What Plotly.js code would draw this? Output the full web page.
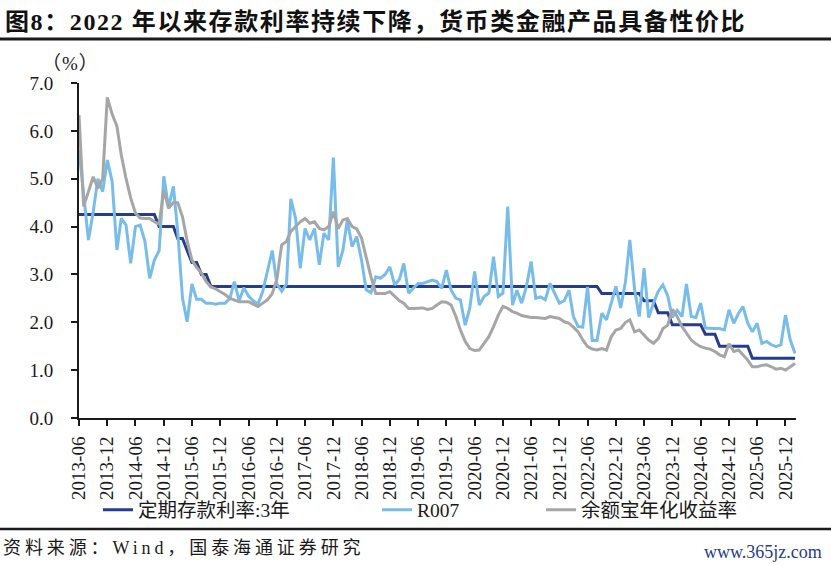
<!DOCTYPE html>
<html>
<head>
<meta charset="utf-8">
<script src="https://cdn.plot.ly/plotly-3.0.1.min.js"></script>
<style>
html,body{margin:0;padding:0;background:#fff;}
#chart{width:831px;height:566px;}
g.annotation[data-index="0"] text{letter-spacing:1.6px;}
g.annotation[data-index="1"] text{letter-spacing:1px;}
g.annotation[data-index="2"] text{letter-spacing:3.9px;}
</style>
</head>
<body>
<div id="chart"></div>
<script>
// Monthly data, 2013-06 .. 2026-02
const startYear = 2013, startMonth = 6;

const deposit3y = [
  4.25, 4.25, 4.25, 4.25, 4.25, 4.25, 4.25,
  4.25, 4.25, 4.25, 4.25, 4.25, 4.25, 4.25, 4.25, 4.25, 4.25, 4.0, 4.0,
  4.0, 4.0, 3.75, 3.75, 3.5, 3.25, 3.25, 3.0, 3.0, 2.75, 2.75, 2.75,
  2.75, 2.75, 2.75, 2.75, 2.75, 2.75, 2.75, 2.75, 2.75, 2.75, 2.75, 2.75,
  2.75, 2.75, 2.75, 2.75, 2.75, 2.75, 2.75, 2.75, 2.75, 2.75, 2.75, 2.75,
  2.75, 2.75, 2.75, 2.75, 2.75, 2.75, 2.75, 2.75, 2.75, 2.75, 2.75, 2.75,
  2.75, 2.75, 2.75, 2.75, 2.75, 2.75, 2.75, 2.75, 2.75, 2.75, 2.75, 2.75,
  2.75, 2.75, 2.75, 2.75, 2.75, 2.75, 2.75, 2.75, 2.75, 2.75, 2.75, 2.75,
  2.75, 2.75, 2.75, 2.75, 2.75, 2.75, 2.75, 2.75, 2.75, 2.75, 2.75, 2.75,
  2.75, 2.75, 2.75, 2.75, 2.75, 2.75, 2.75, 2.75, 2.6, 2.6, 2.6, 2.6,
  2.6, 2.6, 2.6, 2.6, 2.6, 2.45, 2.45, 2.45, 2.2, 2.2, 2.2, 1.95,
  1.95, 1.95, 1.95, 1.95, 1.95, 1.95, 1.75, 1.75, 1.75, 1.5, 1.5, 1.5,
  1.5, 1.5, 1.5, 1.5, 1.25, 1.25, 1.25, 1.25, 1.25, 1.25, 1.25, 1.25,
  1.25, 1.25
];

const r007 = [
  5.6, 4.6, 3.72, 4.31, 5.0, 4.73, 5.39,
  4.95, 3.51, 4.17, 4.03, 3.23, 4.0, 4.03, 3.69, 2.92, 3.3, 3.5, 5.05,
  4.4, 4.84, 3.9, 2.5, 2.01, 2.8, 2.48, 2.48, 2.4, 2.4, 2.38, 2.4,
  2.4, 2.5, 2.85, 2.45, 2.72, 2.55, 2.45, 2.38, 2.65, 3.1, 3.5, 2.8,
  2.65, 2.8, 4.58, 4.17, 3.13, 3.96, 3.72, 3.96, 3.2, 3.86, 3.72, 5.44,
  3.16, 3.51, 4.14, 3.58, 3.79, 3.3, 2.68, 2.62, 2.95, 2.92, 3.0, 3.16,
  2.78, 2.9, 3.23, 2.61, 2.71, 2.81, 2.81, 2.85, 2.88, 2.85, 2.71, 3.09,
  2.67, 2.5, 2.47, 1.94, 2.3, 3.06, 2.36, 2.54, 2.61, 3.37, 2.54, 2.61,
  4.42, 2.36, 2.67, 2.4, 2.74, 3.27, 2.5, 2.53, 2.47, 2.81, 2.61, 2.4,
  2.45, 2.67, 2.12, 1.91, 1.9, 2.74, 1.62, 1.62, 2.19, 2.05, 2.4, 2.75,
  2.3, 2.85, 3.72, 2.68, 2.12, 3.13, 2.1, 2.4, 2.65, 2.78, 2.55, 2.1,
  2.25, 2.12, 2.8, 2.12, 2.1, 2.4, 1.88, 1.87, 1.87, 1.87, 1.84, 2.26,
  1.98, 2.19, 2.33, 1.98, 1.8, 1.98, 1.56, 1.6, 1.53, 1.49, 1.53, 2.15,
  1.63, 1.35
];

const yuebao = [
  6.33, 4.42, 4.73, 5.04, 4.8, 5.0, 6.7,
  6.35, 6.1, 5.5, 5.0, 4.6, 4.28, 4.18, 4.17, 4.17, 4.1, 4.05, 4.76,
  4.38, 4.5, 4.5, 4.2, 3.7, 3.3, 3.15, 3.03, 2.85, 2.74, 2.7, 2.64,
  2.58, 2.5, 2.47, 2.43, 2.43, 2.43, 2.38, 2.33, 2.4, 2.47, 2.6, 2.9,
  3.62, 3.69, 3.9, 4.0, 4.1, 4.17, 4.07, 4.1, 3.96, 3.93, 4.0, 4.31,
  3.96, 4.14, 4.17, 4.0, 3.95, 3.76, 3.34, 2.95, 2.6, 2.6, 2.6, 2.64,
  2.54, 2.45, 2.4, 2.29, 2.29, 2.29, 2.3, 2.27, 2.29, 2.36, 2.43, 2.42,
  2.36, 2.12, 1.84, 1.6, 1.45, 1.41, 1.42, 1.56, 1.7, 1.91, 2.15, 2.33,
  2.29, 2.22, 2.19, 2.14, 2.12, 2.1, 2.1, 2.09, 2.08, 2.12, 2.1, 2.08,
  2.01, 1.98, 1.9, 1.8, 1.63, 1.49, 1.44, 1.42, 1.45, 1.42, 1.7, 1.84,
  1.87, 2.0, 2.05, 1.8, 1.84, 1.73, 1.63, 1.56, 1.66, 1.87, 1.94, 2.27,
  2.12, 1.91, 1.77, 1.63, 1.55, 1.49, 1.46, 1.44, 1.39, 1.32, 1.28, 1.55,
  1.39, 1.42, 1.32, 1.21, 1.07, 1.07, 1.1, 1.11, 1.07, 1.02, 1.04, 1.0,
  1.07, 1.14
];

const tickLabels = [
  "2013-06","2013-12","2014-06","2014-12","2015-06","2015-12","2016-06","2016-12",
  "2017-06","2017-12","2018-06","2018-12","2019-06","2019-12","2020-06","2020-12",
  "2021-06","2021-12","2022-06","2022-12","2023-06","2023-12","2024-06","2024-12",
  "2025-06","2025-12"
];

const seriesNames = ["定期存款利率:3年", "R007", "余额宝年化收益率"];
const seriesColors = ["#263d8f", "#78bde9", "#a6a6a6"];

// month category dates
const months = [];
for (let k = 0; k < r007.length; k++) {
  const t = startMonth - 1 + k;
  const y = startYear + Math.floor(t / 12);
  const m = (t % 12) + 1;
  months.push(y + "-" + (m < 10 ? "0" + m : m) + "-01");
}
const tickVals = tickLabels.map(s => s + "-01");

const serif = 'Liberation Serif, "Noto Sans CJK SC", serif';
const txt = "#1a1a1a";

const traces = [deposit3y, r007, yuebao].map((vals, j) => ({
  type: "scatter", mode: "lines",
  x: months, y: vals, name: seriesNames[j],
  line: {color: seriesColors[j], width: 3},
  legend: j === 0 ? "legend" : ("legend" + (j + 1)),
  hoverinfo: "skip"
}));

function px2x(p){ return (p - 79) / 717; }
function py2y(p){ return (418 - p) / 335; }

const legendBase = {
  orientation: "h", yanchor: "middle", xanchor: "left",
  y: py2y(510), bgcolor: "rgba(0,0,0,0)", borderwidth: 0,
  font: {family: serif, size: 19.5, color: txt}, itemwidth: 30
};

const layout = {
  width: 831, height: 566,
  margin: {l: 79, r: 35, t: 83, b: 148},
  paper_bgcolor: "#fff", plot_bgcolor: "#fff",
  showlegend: true,
  legend: Object.assign({}, legendBase, {x: px2x(98)}),
  legend2: Object.assign({}, legendBase, {x: px2x(377)}),
  legend3: Object.assign({}, legendBase, {x: px2x(541)}),
  xaxis: {
    type: "date", range: ["2013-06-01", "2026-02-07"],
    tickmode: "array", tickvals: tickVals, ticktext: tickLabels,
    tickangle: -90, ticks: "outside", ticklen: 6, tickwidth: 2, tickcolor: "#1a1a1a",
    showline: true, linecolor: "#1a1a1a", linewidth: 2,
    showgrid: false, zeroline: false, ticklabelstandoff: 3,
    tickfont: {family: serif, size: 19, color: txt}
  },
  yaxis: {
    range: [0, 7], tickmode: "linear", tick0: 0, dtick: 1, tickformat: ".1f",
    ticks: "outside", ticklen: 6, tickwidth: 2, tickcolor: "#1a1a1a",
    showline: true, linecolor: "#1a1a1a", linewidth: 2,
    showgrid: false, zeroline: false, ticklabelstandoff: 14,
    tickfont: {family: serif, size: 19, color: txt}
  },
  shapes: [
    {type: "line", xref: "paper", yref: "paper", x0: px2x(0), x1: px2x(831), y0: py2y(39), y1: py2y(39),
     line: {color: "#1a1a1a", width: 3}},
    {type: "line", xref: "paper", yref: "paper", x0: px2x(0), x1: px2x(831), y0: py2y(529), y1: py2y(529),
     line: {color: "#1a1a1a", width: 2.5}}
  ],
  annotations: [
    {xref: "paper", yref: "paper", x: px2x(3), y: py2y(21), xanchor: "left", yanchor: "middle", align: "left",
     showarrow: false, text: "图8：2022 年以来存款利率持续下降，货币类金融产品具备性价比",
     font: {family: serif, size: 24, color: "#111", weight: "bold"}},
    {xref: "paper", yref: "paper", x: px2x(40), y: py2y(63), xanchor: "left", yanchor: "middle", align: "left",
     showarrow: false, text: "（%）", font: {family: serif, size: 19, color: txt}},
    {xref: "paper", yref: "paper", x: px2x(1), y: py2y(548), xanchor: "left", yanchor: "middle", align: "left",
     showarrow: false, text: "资料来源：Wind，国泰海通证券研究", font: {family: serif, size: 18, color: txt}},
    {xref: "paper", yref: "paper", x: px2x(824), y: py2y(552), xanchor: "right", yanchor: "middle",
     showarrow: false, text: "www.365jz.com", font: {family: serif, size: 18, color: "#1f3d8c"}}
  ]
};

Plotly.newPlot("chart", traces, layout, {displayModeBar: false, staticPlot: true});
</script>
</body>
</html>
